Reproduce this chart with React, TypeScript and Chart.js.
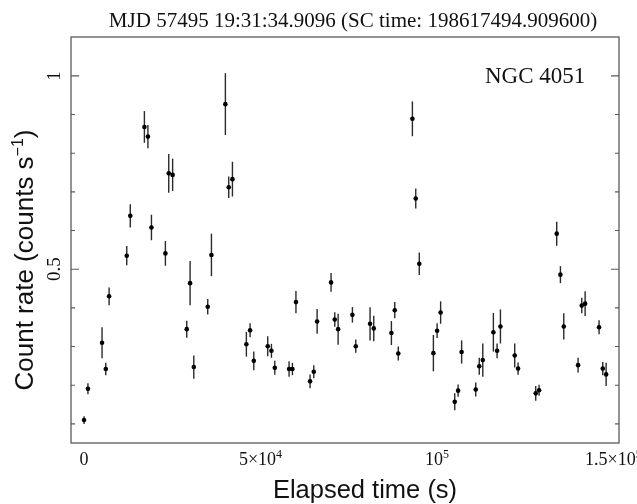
import React, { useEffect, useRef } from "react";
import { Chart, registerables } from "chart.js";

Chart.register(...registerables);

// Elapsed time of each bin (s)
const times = [
  0, 1100, 5100, 6150, 7100, 12100, 13100, 17100, 18100, 19100,
  23050, 24000, 25100, 29100, 30050, 31100, 35050, 36100, 40050, 41000,
  42050, 46000, 47050, 48100, 52050, 53100, 54050, 58100, 59050, 60050,
  64050, 65100, 66050, 70000, 71050, 72000, 76050, 77000, 81050, 82100,
  87100, 88050, 89050, 93050, 94000, 95000, 99000, 100050, 101050, 105050,
  106000, 107000, 111000, 112000, 113000, 116000, 117050, 118000, 122050, 123000,
  128000, 128950, 133950, 135000, 135950, 140000, 141050, 142000, 145950, 147000,
  147950,
];

// Count rate (counts/s)
const rates = [
  0.110, 0.191, 0.310, 0.242, 0.430, 0.535, 0.638, 0.868, 0.843, 0.608,
  0.541, 0.748, 0.744, 0.345, 0.464, 0.247, 0.403, 0.537, 0.927, 0.712,
  0.733, 0.306, 0.342, 0.263, 0.301, 0.289, 0.245, 0.242, 0.242, 0.415,
  0.210, 0.235, 0.365, 0.466, 0.370, 0.345, 0.382, 0.301, 0.359, 0.347,
  0.335, 0.394, 0.282, 0.889, 0.683, 0.514, 0.283, 0.341, 0.388, 0.157,
  0.186, 0.286, 0.189, 0.249, 0.265, 0.337, 0.289, 0.352, 0.277, 0.243,
  0.179, 0.187, 0.592, 0.486, 0.352, 0.252, 0.406, 0.411, 0.350, 0.243,
  0.228,
];

// 1-sigma errors on the count rate
const rateErrors = [
  0.010, 0.014, 0.040, 0.016, 0.023, 0.025, 0.030, 0.041, 0.030, 0.033,
  0.032, 0.050, 0.042, 0.022, 0.057, 0.030, 0.020, 0.055, 0.080, 0.028,
  0.045, 0.032, 0.018, 0.024, 0.026, 0.018, 0.018, 0.020, 0.016, 0.029,
  0.018, 0.017, 0.032, 0.024, 0.019, 0.040, 0.020, 0.017, 0.043, 0.033,
  0.031, 0.021, 0.018, 0.045, 0.026, 0.029, 0.047, 0.019, 0.029, 0.022,
  0.016, 0.030, 0.018, 0.022, 0.043, 0.050, 0.019, 0.044, 0.031, 0.016,
  0.019, 0.014, 0.031, 0.022, 0.034, 0.019, 0.020, 0.032, 0.018, 0.017,
  0.030,
];

const xTickValues = [0, 50000, 100000, 150000];
const xTickBase = ["0", "5×10", "10", "1.5×10"];
const xTickSup = ["", "4", "5", "5"];
const yTickValues = [0.5, 1];
const yTickLabels = ["0.5", "1"];

const chartTitle = "MJD 57495 19:31:34.9096 (SC time: 198617494.909600)";
const sourceName = "NGC 4051";
const xAxisTitle = "Elapsed time (s)";
const yAxisTitleBase = "Count rate (counts s";
const yAxisTitleSup = "−1";
const yAxisTitleEnd = ")";

const SERIF = '"Liberation Serif", "DejaVu Serif", serif';
const SANS = '"Liberation Sans", Arial, sans-serif';

type Part = { text: string; font: string; dy?: number };

function drawRich(ctx: CanvasRenderingContext2D, parts: Part[], x: number, y: number, rotate: boolean, align: "left" | "center") {
  ctx.save();
  ctx.translate(x, y);
  if (rotate) ctx.rotate(-Math.PI / 2);
  ctx.textAlign = "left";
  ctx.textBaseline = "alphabetic";
  let total = 0;
  const widths = parts.map((p) => {
    ctx.font = p.font;
    const w = ctx.measureText(p.text).width;
    total += w;
    return w;
  });
  let cx = align === "center" ? -total / 2 : 0;
  parts.forEach((p, i) => {
    ctx.font = p.font;
    ctx.fillText(p.text, cx, p.dy || 0);
    cx += widths[i];
  });
  ctx.restore();
}

const isMultiple = (v: number, step: number) => Math.abs(v / step - Math.round(v / step)) < 1e-6;

const decorPlugin = {
  id: "decor",
  beforeDatasetsDraw(chart: any) {
    const { ctx, scales } = chart;
    const xs = scales.x;
    const ys = scales.y;
    ctx.save();
    ctx.strokeStyle = "#2a2a2a";
    ctx.lineWidth = 1.4;
    times.forEach((t, i) => {
      const px = xs.getPixelForValue(t);
      const top = ys.getPixelForValue(rates[i] + rateErrors[i]);
      const bot = ys.getPixelForValue(rates[i] - rateErrors[i]);
      ctx.beginPath();
      ctx.moveTo(px, top);
      ctx.lineTo(px, bot);
      ctx.stroke();
    });
    ctx.restore();
  },
  afterDraw(chart: any) {
    const { ctx, chartArea, scales } = chart;
    const xs = scales.x;
    const ys = scales.y;
    const { left, right, top, bottom } = chartArea;
    ctx.save();
    // frame
    ctx.strokeStyle = "#5a5a5a";
    ctx.lineWidth = 1.3;
    ctx.strokeRect(left, top, right - left, bottom - top);
    // x ticks (inward, top and bottom)
    ctx.lineWidth = 1.1;
    xs.ticks.forEach((tk: any) => {
      const v = tk.value;
      if (!isMultiple(v, 10000) || v < xs.min || v > xs.max) return;
      const px = xs.getPixelForValue(v);
      const len = isMultiple(v, 50000) ? 8 : 4;
      ctx.beginPath();
      ctx.moveTo(px, bottom);
      ctx.lineTo(px, bottom - len);
      ctx.moveTo(px, top);
      ctx.lineTo(px, top + len);
      ctx.stroke();
    });
    // y ticks (inward, left and right)
    ys.ticks.forEach((tk: any) => {
      const v = tk.value;
      if (!isMultiple(v, 0.1) || v < ys.min || v > ys.max) return;
      const py = ys.getPixelForValue(v);
      const len = isMultiple(v, 0.5) ? 8 : 4;
      ctx.beginPath();
      ctx.moveTo(left, py);
      ctx.lineTo(left + len, py);
      ctx.moveTo(right, py);
      ctx.lineTo(right - len, py);
      ctx.stroke();
    });

    ctx.fillStyle = "#111";
    // x tick labels
    xTickValues.forEach((v, i) => {
      const px = xs.getPixelForValue(v);
      const parts: Part[] = [{ text: xTickBase[i], font: `18px ${SERIF}` }];
      if (xTickSup[i]) parts.push({ text: xTickSup[i], font: `12px ${SERIF}`, dy: -7 });
      drawRich(ctx, parts, px, 465, false, "center");
    });
    // y tick labels (rotated)
    yTickValues.forEach((v, i) => {
      const py = ys.getPixelForValue(v);
      drawRich(ctx, [{ text: yTickLabels[i], font: `19px ${SERIF}` }], 60, py, true, "center");
    });

    // axis titles
    drawRich(ctx, [{ text: xAxisTitle, font: `25.5px ${SANS}` }], 365, 498, false, "center");
    drawRich(
      ctx,
      [
        { text: yAxisTitleBase, font: `26px ${SANS}` },
        { text: yAxisTitleSup, font: `16px ${SANS}`, dy: -10 },
        { text: yAxisTitleEnd, font: `26px ${SANS}` },
      ],
      33,
      260,
      true,
      "center"
    );

    // main title
    drawRich(ctx, [{ text: chartTitle, font: `21px ${SERIF}` }], 353, 27, false, "center");
    // source name
    drawRich(ctx, [{ text: sourceName, font: `23px ${SERIF}` }], 485, 83, false, "left");
    ctx.restore();
  },
};

export default function App() {
  const canvasRef = useRef<HTMLCanvasElement | null>(null);

  useEffect(() => {
    if (!canvasRef.current) return;
    const points = times.map((t, i) => ({ x: t, y: rates[i] }));
    const chart = new Chart(canvasRef.current, {
      type: "scatter",
      data: {
        datasets: [
          {
            label: sourceName,
            data: points,
            pointRadius: 2.3,
            pointBackgroundColor: "#000",
            pointBorderWidth: 0,
            pointHoverRadius: 2.3,
          },
        ],
      },
      options: {
        animation: false,
        responsive: false,
        maintainAspectRatio: false,
        events: [],
        layout: { padding: { left: 0, right: 18, top: 37, bottom: 0 } },
        plugins: {
          legend: { display: false },
          tooltip: { enabled: false },
          title: { display: false },
        },
        scales: {
          x: {
            type: "linear",
            min: -3700,
            max: 151600,
            ticks: { display: false, stepSize: 10000 },
            grid: { display: false, drawTicks: false },
            border: { display: false },
            afterFit: (s: any) => {
              s.height = 61;
            },
          },
          y: {
            type: "linear",
            min: 0.0506,
            max: 1.1006,
            ticks: { display: false, stepSize: 0.1 },
            grid: { display: false, drawTicks: false },
            border: { display: false },
            afterFit: (s: any) => {
              s.width = 71;
            },
          },
        },
      },
      plugins: [decorPlugin],
    } as any);
    return () => chart.destroy();
  }, []);

  return (
    <div style={{ position: "absolute", left: 0, top: 0, width: 637, height: 504, background: "#fff" }}>
      <canvas ref={canvasRef} width={637} height={504} style={{ display: "block", width: 637, height: 504 }} />
    </div>
  );
}
